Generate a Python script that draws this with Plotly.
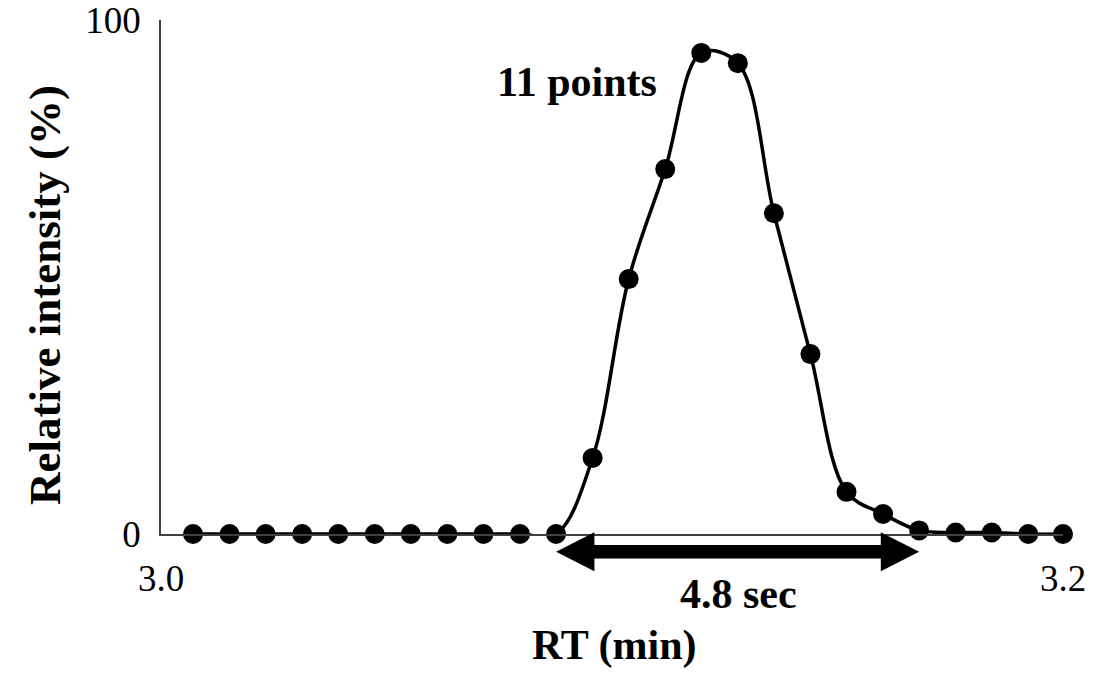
import plotly.graph_objects as go

# Data
rt_min = [3.0071, 3.0152, 3.0232, 3.0313, 3.0393, 3.0474, 3.0554, 3.0635,
          3.0715, 3.0796, 3.0876, 3.0957, 3.1037, 3.1118, 3.1198, 3.1279,
          3.1359, 3.1440, 3.1520, 3.1601, 3.1681, 3.1762, 3.1842, 3.1923,
          3.2000]
intensity = [0, 0, 0, 0, 0, 0, 0, 0, 0, 0,
             0, 14.8, 49.6, 71.0, 93.6, 91.6, 62.4, 35.0, 8.2, 3.9,
             0.7, 0.3, 0.3, 0, 0]
x_ticks = [3.0, 3.2]
x_tick_labels = ["3.0", "3.2"]
y_ticks = [0, 100]
y_tick_labels = ["0", "100"]
peak_start_idx = 10
peak_end_idx = 20
n_points_label = "11 points"
width_label = "4.8 sec"

FONT = "Liberation Serif"

fig = go.Figure()
fig.add_trace(go.Scatter(
    x=rt_min, y=intensity, mode="lines+markers",
    line=dict(color="black", width=3.5, shape="spline", smoothing=1),
    marker=dict(color="black", size=20),
    cliponaxis=False, hoverinfo="skip", showlegend=False,
))

# double-headed arrow below the baseline, spanning the peak points
x0 = rt_min[peak_start_idx]
x1 = rt_min[peak_end_idx]
yc = -0.0345
H = 0.038
s = 0.013
h = 0.0085
path = (f"M {x0},{yc} L {x0+h},{yc+H} L {x0+h},{yc+s} L {x1-h},{yc+s} "
        f"L {x1-h},{yc+H} L {x1},{yc} L {x1-h},{yc-H} L {x1-h},{yc-s} "
        f"L {x0+h},{yc-s} L {x0+h},{yc-H} Z")
fig.add_shape(type="path", path=path, xref="x", yref="paper",
              fillcolor="black", line=dict(color="black", width=0))

bold = dict(family=FONT, size=42, color="black", weight="bold")
common = dict(showarrow=False, xanchor="center", yanchor="middle")
fig.add_annotation(x=3.0922, y=87.9, xref="x", yref="y", text=n_points_label,
                   font=bold, **common)
fig.add_annotation(x=3.128, y=-0.117, xref="x", yref="paper", text=width_label,
                   font=bold, **common)
fig.add_annotation(x=0.5025, y=-0.216, xref="paper", yref="paper", text="RT (min)",
                   font=bold, **common)
fig.add_annotation(x=-0.1286, y=0.465, xref="paper", yref="paper",
                   text="Relative intensity (%)", textangle=-90,
                   font=dict(family=FONT, size=45, color="black", weight="bold"),
                   **common)

fig.update_layout(
    width=1094, height=674,
    margin=dict(l=161, r=31, t=20, b=140, autoexpand=False),
    paper_bgcolor="white", plot_bgcolor="white",
    xaxis=dict(range=[3.0, 3.2], tickvals=x_ticks, ticktext=x_tick_labels,
               showgrid=False, zeroline=False, showline=True, automargin=False,
               linecolor="#404040", linewidth=1.5, ticks="",
               ticklabelstandoff=11, ticklabeloverflow="allow",
               tickfont=dict(family=FONT, size=37, color="black")),
    yaxis=dict(range=[0, 100], tickvals=y_ticks, ticktext=y_tick_labels,
               showgrid=False, zeroline=False, showline=True, automargin=False,
               linecolor="#404040", linewidth=1.5, ticks="",
               ticklabelstandoff=11, ticklabeloverflow="allow",
               tickfont=dict(family=FONT, size=37, color="black")),
)

fig.write_html("out.html",
               config={"displayModeBar": False},
               post_script="document.body.style.margin='0';"
                           "document.body.style.overflow='hidden';")
